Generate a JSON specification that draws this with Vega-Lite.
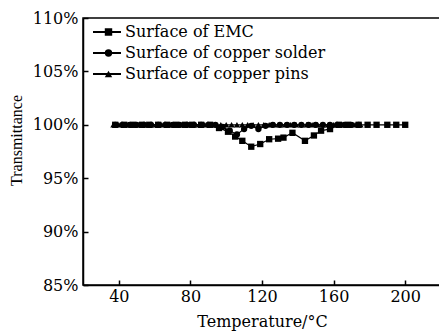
{
  "$schema": "https://vega.github.io/schema/vega-lite/v6.json",
  "autosize": "none",
  "padding": {"left": 83, "top": 18, "right": 0, "bottom": 46},
  "width": 358,
  "height": 267,
  "background": "white",
  "config": {
    "font": "DejaVu Serif",
    "view": {"stroke": "black", "strokeWidth": 1.5},
    "axis": {"labelFont": "DejaVu Serif", "titleFont": "DejaVu Serif", "labelColor": "black", "titleColor": "black", "domainColor": "black", "tickColor": "black", "grid": false, "labelFontSize": 16, "titleFontSize": 16, "titleFontWeight": "normal", "domainWidth": 1.5, "tickWidth": 1.5, "tickSize": -5}
  },
  "datasets": {
    "pts": [
      {"T": 37, "v": 100, "s": "Surface of copper pins"},
      {"T": 40, "v": 100, "s": "Surface of copper pins"},
      {"T": 43, "v": 100, "s": "Surface of copper pins"},
      {"T": 46, "v": 100, "s": "Surface of copper pins"},
      {"T": 49, "v": 100, "s": "Surface of copper pins"},
      {"T": 52, "v": 100, "s": "Surface of copper pins"},
      {"T": 55, "v": 100, "s": "Surface of copper pins"},
      {"T": 58, "v": 100, "s": "Surface of copper pins"},
      {"T": 61, "v": 100, "s": "Surface of copper pins"},
      {"T": 64, "v": 100, "s": "Surface of copper pins"},
      {"T": 67, "v": 100, "s": "Surface of copper pins"},
      {"T": 70, "v": 100, "s": "Surface of copper pins"},
      {"T": 73, "v": 100, "s": "Surface of copper pins"},
      {"T": 76, "v": 100, "s": "Surface of copper pins"},
      {"T": 79, "v": 100, "s": "Surface of copper pins"},
      {"T": 82, "v": 100, "s": "Surface of copper pins"},
      {"T": 85, "v": 100, "s": "Surface of copper pins"},
      {"T": 88, "v": 100, "s": "Surface of copper pins"},
      {"T": 91, "v": 100, "s": "Surface of copper pins"},
      {"T": 94, "v": 100, "s": "Surface of copper pins"},
      {"T": 97, "v": 100, "s": "Surface of copper pins"},
      {"T": 100, "v": 100, "s": "Surface of copper pins"},
      {"T": 103, "v": 100, "s": "Surface of copper pins"},
      {"T": 106, "v": 100, "s": "Surface of copper pins"},
      {"T": 109, "v": 100, "s": "Surface of copper pins"},
      {"T": 112, "v": 100, "s": "Surface of copper pins"},
      {"T": 115, "v": 100, "s": "Surface of copper pins"},
      {"T": 118, "v": 100, "s": "Surface of copper pins"},
      {"T": 121, "v": 100, "s": "Surface of copper pins"},
      {"T": 124, "v": 100, "s": "Surface of copper pins"},
      {"T": 127, "v": 100, "s": "Surface of copper pins"},
      {"T": 130, "v": 100, "s": "Surface of copper pins"},
      {"T": 133, "v": 100, "s": "Surface of copper pins"},
      {"T": 136, "v": 100, "s": "Surface of copper pins"},
      {"T": 139, "v": 100, "s": "Surface of copper pins"},
      {"T": 142, "v": 100, "s": "Surface of copper pins"},
      {"T": 145, "v": 100, "s": "Surface of copper pins"},
      {"T": 148, "v": 100, "s": "Surface of copper pins"},
      {"T": 151, "v": 100, "s": "Surface of copper pins"},
      {"T": 154, "v": 100, "s": "Surface of copper pins"},
      {"T": 157, "v": 100, "s": "Surface of copper pins"},
      {"T": 160, "v": 100, "s": "Surface of copper pins"},
      {"T": 163, "v": 100, "s": "Surface of copper pins"},
      {"T": 166, "v": 100, "s": "Surface of copper pins"},
      {"T": 169, "v": 100, "s": "Surface of copper pins"},
      {"T": 172, "v": 100, "s": "Surface of copper pins"},
      {"T": 175, "v": 100, "s": "Surface of copper pins"},
      {"T": 38, "v": 100, "s": "Surface of copper solder"},
      {"T": 42, "v": 100, "s": "Surface of copper solder"},
      {"T": 46, "v": 100, "s": "Surface of copper solder"},
      {"T": 50, "v": 100, "s": "Surface of copper solder"},
      {"T": 54, "v": 100, "s": "Surface of copper solder"},
      {"T": 58, "v": 100, "s": "Surface of copper solder"},
      {"T": 62, "v": 100, "s": "Surface of copper solder"},
      {"T": 66, "v": 100, "s": "Surface of copper solder"},
      {"T": 70, "v": 100, "s": "Surface of copper solder"},
      {"T": 74, "v": 100, "s": "Surface of copper solder"},
      {"T": 78, "v": 100, "s": "Surface of copper solder"},
      {"T": 82, "v": 100, "s": "Surface of copper solder"},
      {"T": 86, "v": 100, "s": "Surface of copper solder"},
      {"T": 90, "v": 100, "s": "Surface of copper solder"},
      {"T": 94, "v": 100, "s": "Surface of copper solder"},
      {"T": 98, "v": 99.8, "s": "Surface of copper solder"},
      {"T": 102, "v": 99.45, "s": "Surface of copper solder"},
      {"T": 106, "v": 99.1, "s": "Surface of copper solder"},
      {"T": 110, "v": 99.6, "s": "Surface of copper solder"},
      {"T": 114, "v": 99.9, "s": "Surface of copper solder"},
      {"T": 118, "v": 99.6, "s": "Surface of copper solder"},
      {"T": 122, "v": 99.9, "s": "Surface of copper solder"},
      {"T": 126, "v": 100, "s": "Surface of copper solder"},
      {"T": 130, "v": 100, "s": "Surface of copper solder"},
      {"T": 134, "v": 100, "s": "Surface of copper solder"},
      {"T": 138, "v": 100, "s": "Surface of copper solder"},
      {"T": 142, "v": 100, "s": "Surface of copper solder"},
      {"T": 146, "v": 100, "s": "Surface of copper solder"},
      {"T": 150, "v": 100, "s": "Surface of copper solder"},
      {"T": 154, "v": 100, "s": "Surface of copper solder"},
      {"T": 158, "v": 100, "s": "Surface of copper solder"},
      {"T": 162, "v": 100, "s": "Surface of copper solder"},
      {"T": 166, "v": 100, "s": "Surface of copper solder"},
      {"T": 170, "v": 100, "s": "Surface of copper solder"},
      {"T": 174, "v": 100, "s": "Surface of copper solder"},
      {"T": 38, "v": 100, "s": "Surface of EMC"},
      {"T": 43, "v": 100, "s": "Surface of EMC"},
      {"T": 48, "v": 100, "s": "Surface of EMC"},
      {"T": 53, "v": 100, "s": "Surface of EMC"},
      {"T": 57, "v": 100, "s": "Surface of EMC"},
      {"T": 62, "v": 100, "s": "Surface of EMC"},
      {"T": 67, "v": 100, "s": "Surface of EMC"},
      {"T": 72, "v": 100, "s": "Surface of EMC"},
      {"T": 77, "v": 100, "s": "Surface of EMC"},
      {"T": 81, "v": 100, "s": "Surface of EMC"},
      {"T": 86, "v": 100, "s": "Surface of EMC"},
      {"T": 91, "v": 100, "s": "Surface of EMC"},
      {"T": 96, "v": 99.7, "s": "Surface of EMC"},
      {"T": 101, "v": 99.35, "s": "Surface of EMC"},
      {"T": 105, "v": 98.9, "s": "Surface of EMC"},
      {"T": 109, "v": 98.5, "s": "Surface of EMC"},
      {"T": 114, "v": 97.95, "s": "Surface of EMC"},
      {"T": 119, "v": 98.2, "s": "Surface of EMC"},
      {"T": 124, "v": 98.65, "s": "Surface of EMC"},
      {"T": 129, "v": 98.7, "s": "Surface of EMC"},
      {"T": 132, "v": 98.8, "s": "Surface of EMC"},
      {"T": 137, "v": 99.25, "s": "Surface of EMC"},
      {"T": 144, "v": 98.5, "s": "Surface of EMC"},
      {"T": 149, "v": 99.0, "s": "Surface of EMC"},
      {"T": 153, "v": 99.45, "s": "Surface of EMC"},
      {"T": 158, "v": 99.6, "s": "Surface of EMC"},
      {"T": 163, "v": 100, "s": "Surface of EMC"},
      {"T": 168, "v": 100, "s": "Surface of EMC"},
      {"T": 174, "v": 100, "s": "Surface of EMC"},
      {"T": 179, "v": 100, "s": "Surface of EMC"},
      {"T": 184, "v": 100, "s": "Surface of EMC"},
      {"T": 190, "v": 100, "s": "Surface of EMC"},
      {"T": 195, "v": 100, "s": "Surface of EMC"},
      {"T": 200, "v": 100, "s": "Surface of EMC"}
    ]
  },
  "data": {"name": "pts"},
  "encoding": {
    "x": {"field": "T", "type": "quantitative", "scale": {"domain": [20, 220], "nice": false},
      "axis": {"values": [40, 80, 120, 160, 200], "title": "Temperature/°C", "labelPadding": 8, "titlePadding": 9}},
    "y": {"field": "v", "type": "quantitative", "scale": {"domain": [85, 110], "nice": false},
      "axis": {"values": [85, 90, 95, 100, 105, 110], "labelExpr": "datum.value + '%'", "title": "Transmittance", "titleFont": "Liberation Serif", "titleY": 122, "labelPadding": 10, "titlePadding": 8}}
  },
  "layer": [
    {
      "mark": {"type": "line", "strokeWidth": 1.2},
      "encoding": {
        "color": {"field": "s", "type": "nominal",
          "sort": ["Surface of EMC", "Surface of copper solder", "Surface of copper pins"],
          "scale": {"range": ["black", "black", "black"]},
          "legend": {
            "title": null, "orient": "none", "legendX": 9, "legendY": 3.5, "padding": 0,
            "labelFont": "DejaVu Serif", "labelFontSize": 16, "labelColor": "black", "labelLimit": 400,
            "symbolType": "stroke", "symbolSize": 784, "symbolStrokeWidth": 2, "rowPadding": 0, "clipHeight": 21, "labelOffset": 3
          }}
      }
    },
    {
      "mark": {"type": "point", "filled": true, "opacity": 1, "color": "black", "size": 40},
      "encoding": {
        "shape": {"field": "s", "type": "nominal",
          "scale": {"domain": ["Surface of EMC", "Surface of copper solder", "Surface of copper pins"], "range": ["square", "circle", "triangle-up"]},
          "legend": {
            "title": null, "orient": "none", "legendX": 21, "legendY": 3.5, "padding": 0,
            "labelFont": "DejaVu Serif", "labelFontSize": 1, "labelOpacity": 0, "labelLimit": 1,
            "symbolSize": 55, "rowPadding": 0, "clipHeight": 21, "labelOffset": 0,
            "symbolFillColor": "black", "symbolOpacity": 1
          }}
      }
    }
  ]
}
